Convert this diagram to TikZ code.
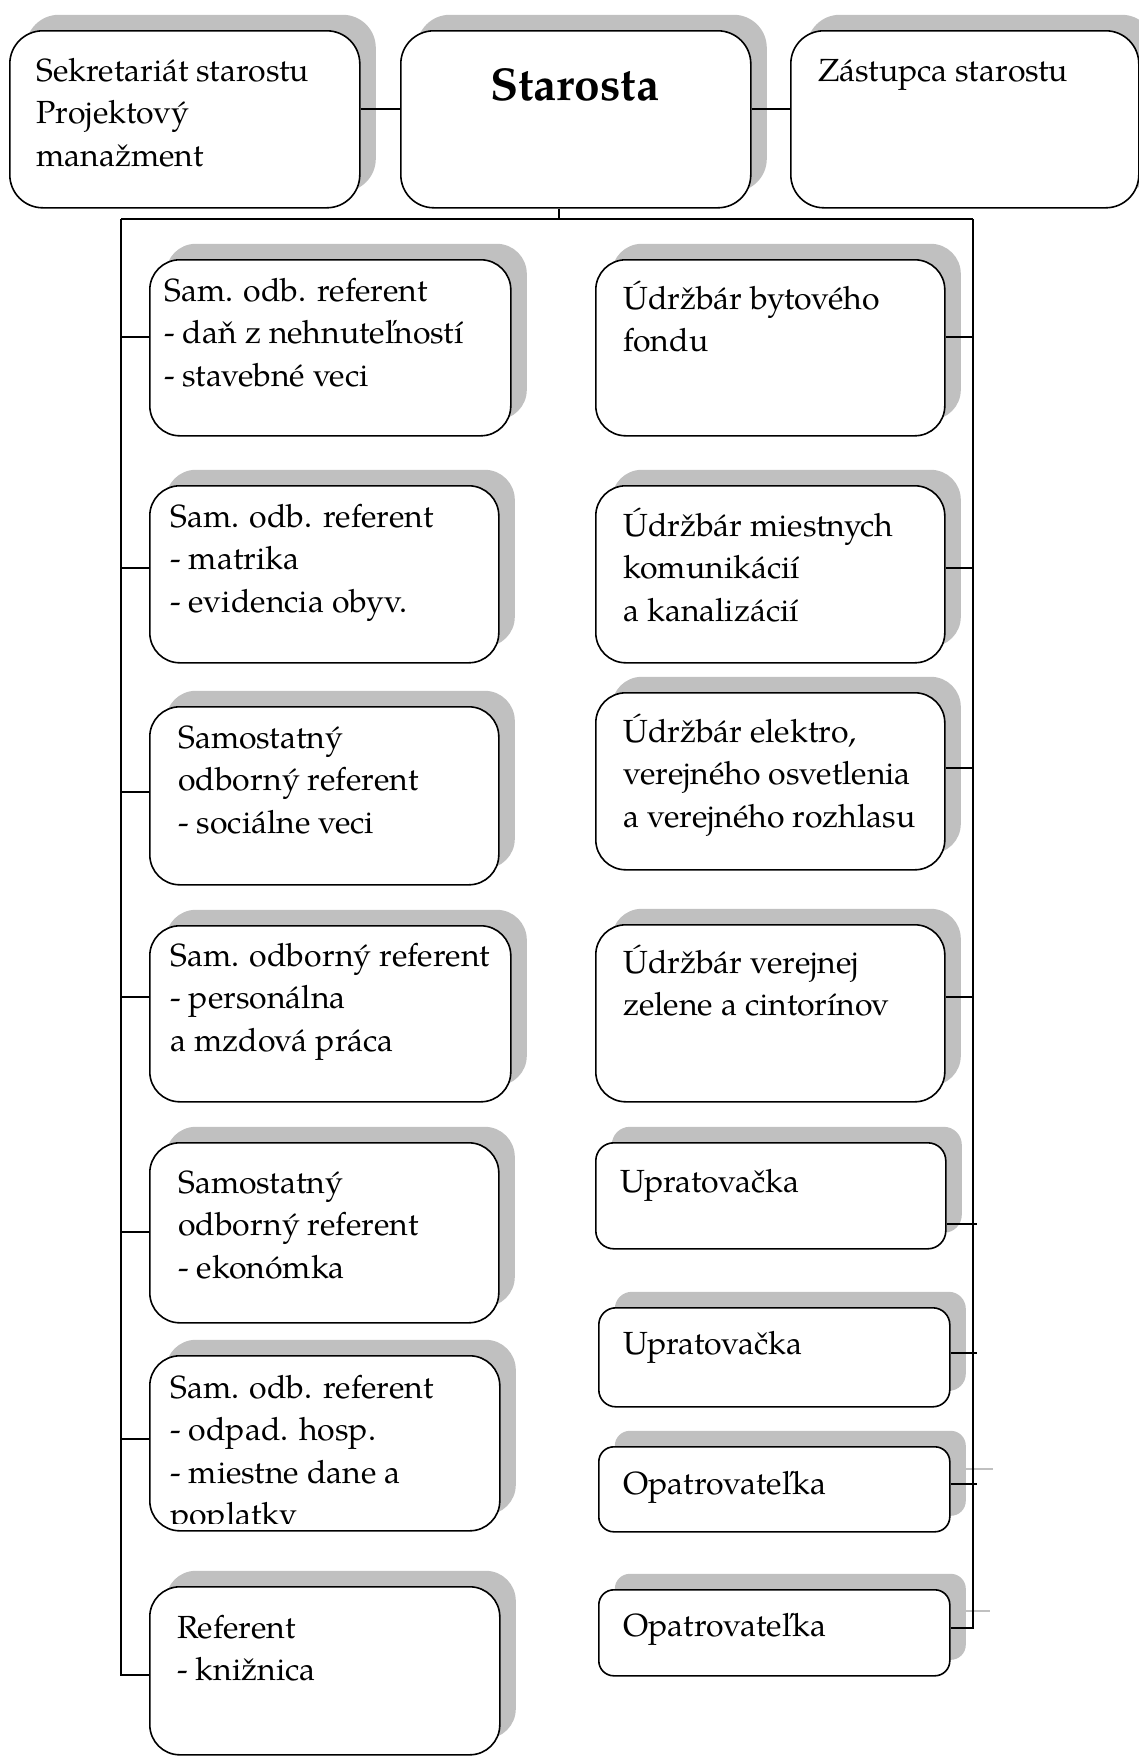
\documentclass[tikz,border=0pt]{standalone}
\usepackage{fontspec}
\setmainfont{TeX Gyre Pagella}
\usetikzlibrary{shadows}
\definecolor{shd}{HTML}{C0C0C0}
\pgfdeclarelayer{bg}
\pgfsetlayers{bg,main}
\newcommand\orgbox[6]{%
  \node[box, rounded corners=#6pt, minimum width={(#4)-(#2)}, minimum height={(#5)-(#3)}] (#1) at (#2,#3) {};}
\begin{document}
\begin{tikzpicture}[x=1pt,y=-1pt,
  box/.style={draw=black, line width=1.6pt, fill=white, inner sep=0pt, anchor=north west,
    general shadow={fill=shd, shadow xshift=16pt, shadow yshift=16pt}},
  txt/.style={inner sep=0pt, anchor=base west, align=left, font=\fontsize{32}{42.5}\selectfont},
  wire/.style={line width=1.6pt},
  ghost/.style={line width=1.2pt, draw=shd}]
\useasboundingbox (0,0) rectangle (1139,1756);
% top row
\orgbox{L}{9}{30}{359}{207}{33}
\orgbox{S}{400}{30}{750}{207}{33}
\orgbox{Z}{790}{30}{1138}{207}{33}
% left column
\orgbox{l1}{149}{259}{510}{435}{30}
\orgbox{l2}{149}{485}{498}{662}{30}
\orgbox{l3}{149}{706}{498}{884}{30}
\orgbox{l4}{149}{925}{510}{1101}{30}
\orgbox{l5}{149}{1142}{498}{1322}{30}
\orgbox{l6}{149}{1355}{499}{1530}{30}
\orgbox{l7}{149}{1586}{499}{1754}{30}
% right column
\orgbox{r1}{595}{259}{944}{435}{30}
\orgbox{r2}{595}{485}{944}{662}{30}
\orgbox{r3}{595}{692}{944}{869}{30}
\orgbox{r4}{595}{924}{944}{1101}{30}
\orgbox{r5}{595}{1142}{945}{1248}{18}
\orgbox{r6}{598}{1307}{949}{1406}{17}
\orgbox{r7}{598}{1446}{949}{1531}{15}
\orgbox{r8}{598}{1589}{949}{1675}{15}
% texts (anchor = baseline of the last line)
\node[txt] (tL) at (36,166) {Sekretariát starostu\\Projektový\\manažment};
\node[inner sep=0pt, anchor=base, font=\bfseries\fontsize{46}{50}\selectfont] (tS) at (575,100) {Starosta};
\node[txt] (tZ) at (818,81) {Zástupca starostu};
\node[txt] (tl1) at (164,386) {Sam. odb. referent\\- daň z nehnuteľností\\- stavebné veci};
\node[txt] (tl2) at (170,612) {Sam. odb. referent\\- matrika\\- evidencia obyv.};
\node[txt] (tl3) at (178,833) {Samostatný\\odborný referent\\- sociálne veci};
\node[txt] (tl4) at (170,1051) {Sam. odborný referent\\- personálna\\a mzdová práca};
\node[txt] (tl5) at (178,1278) {Samostatný\\odborný referent\\- ekonómka};
\begin{scope}
  \clip (149,1355) rectangle (499,1523);
  \node[txt] (tl6) at (170,1525.5) {Sam. odb. referent\\- odpad. hosp.\\- miestne dane a\\poplatky};
\end{scope}
\node[txt] (tl7) at (177,1680.5) {Referent\\- knižnica};
\node[txt] (tr1) at (623,351.5) {Údržbár bytového\\fondu};
\node[txt] (tr2) at (623,621) {Údržbár miestnych\\komunikácií\\a kanalizácií};
\node[txt] (tr3) at (623,827) {Údržbár elektro,\\verejného osvetlenia\\a verejného rozhlasu};
\node[txt] (tr4) at (623,1015.5) {Údržbár verejnej\\zelene a cintorínov};
\node[txt] (tr5) at (620,1192) {Upratovačka};
\node[txt] (tr6) at (623,1354) {Upratovačka};
\node[txt] (tr7) at (623,1494) {Opatrovateľka};
\node[txt] (tr8) at (623,1636) {Opatrovateľka};
% connector levels
\coordinate (ytop) at (0,109);
\coordinate (lt) at (121,219);
\coordinate (rt) at (973,219);
\coordinate (yl1) at (0,337);
\coordinate (yl2) at (0,568);
\coordinate (yl3) at (0,792);
\coordinate (yl4) at (0,997);
\coordinate (yl5) at (0,1232);
\coordinate (yl6) at (0,1439);
\coordinate (yl7) at (0,1675);
\coordinate (yr1) at (0,337);
\coordinate (yr2) at (0,568);
\coordinate (yr3) at (0,768);
\coordinate (yr4) at (0,997);
\coordinate (e5) at (977,1224);
\coordinate (e6) at (977,1353);
\coordinate (e7) at (977,1484);
\coordinate (yr8) at (0,1628);
\coordinate (g7) at (993,1469);
\coordinate (g8) at (990,1611);
% connectors
\draw[wire] (L.east |- ytop) -- (S.west |- ytop);
\draw[wire] (S.east |- ytop) -- (Z.west |- ytop);
\draw[wire] (S.south -| 559,0) -- (lt -| 559,0);
\draw[wire] (lt) -- (rt);
\draw[wire] (lt) |- (l7.west |- yl7);
\foreach \i in {1,...,6} {\draw[wire] (lt |- yl\i) -- (l\i.west |- yl\i);}
\draw[wire] (rt) |- (r8.east |- yr8);
\foreach \i in {1,...,4} {\draw[wire] (rt |- yr\i) -- (r\i.east |- yr\i);}
\draw[wire] (r5.east |- e5) -- (e5);
\draw[wire] (r6.east |- e6) -- (e6);
\draw[wire] (r7.east |- e7) -- (e7);
\begin{pgfonlayer}{bg}
\draw[ghost] (r7.east |- g7) -- (g7);
\draw[ghost] (r8.east |- g8) -- (g8);
\end{pgfonlayer}
\end{tikzpicture}
\end{document}
